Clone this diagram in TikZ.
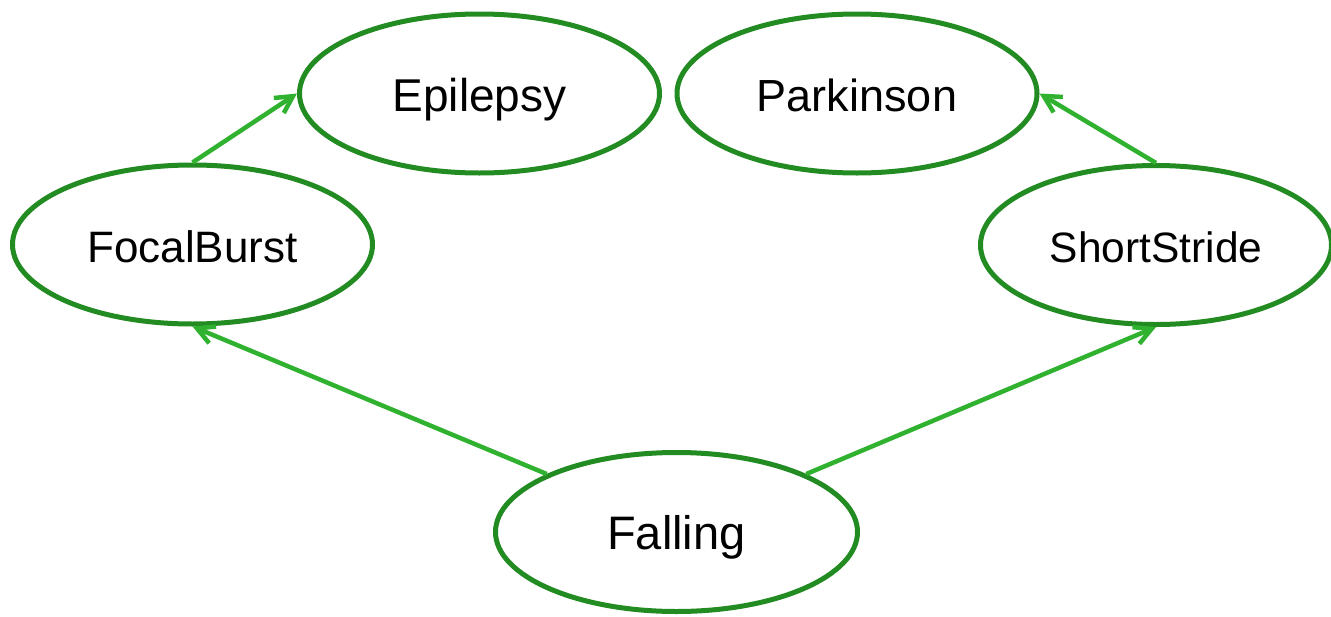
\documentclass[tikz,border=0pt]{standalone}
\usepackage{fontspec}
\setmainfont{Liberation Sans}
\usetikzlibrary{shapes.geometric,arrows.meta}
\definecolor{nodegreen}{RGB}{34,139,34}
\definecolor{edgegreen}{RGB}{48,178,48}
\tikzset{
  statenode/.style={ellipse, draw=nodegreen, line width=5pt, inner sep=0pt,
    minimum width=360pt, minimum height=159pt, text height=35pt, text depth=0pt},
  edgearrow/.style={draw=edgegreen, line width=4.5pt,
    -{Straight Barb[length=17pt,width=18pt]}}
}
\begin{document}
\begin{tikzpicture}[x=1pt,y=-1pt]
\useasboundingbox (0,0) rectangle (1331,616);
\node[statenode, font=\fontsize{46}{50}\selectfont] (epi) at (479.5,93.5) {Epilepsy};
\node[statenode, font=\fontsize{45}{50}\selectfont] (park) at (857,93.5) {Parkinson};
\node[statenode, font=\fontsize{44}{50}\selectfont] (focal) at (192.5,244.5) {FocalBurst};
\node[statenode, font=\fontsize{42.5}{50}\selectfont, minimum width=351pt] (short) at (1156,245) {ShortStride};
\node[statenode, font=\fontsize{47}{50}\selectfont, minimum width=362pt] (fall) at (676.5,532) {Falling};
\draw[edgearrow] (fall.north west) -- (focal.south);
\draw[edgearrow] (fall.north east) -- (short.south);
\draw[edgearrow] (focal.north) -- (epi.west);
\draw[edgearrow] (short.north) -- (park.east);
\end{tikzpicture}
\end{document}
